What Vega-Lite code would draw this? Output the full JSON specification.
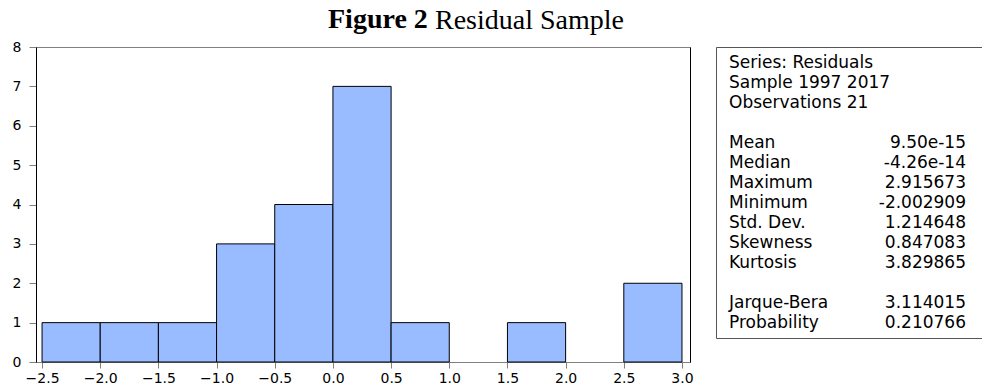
{
  "$schema": "https://vega.github.io/schema/vega-lite/v6.json",
  "padding": {"left": 11, "top": 5, "right": 0, "bottom": 0},
  "background": "white",
  "datasets": {
    "bins": [
      {"bin_start": -2.5, "bin_end": -2.0, "count": 1},
      {"bin_start": -2.0, "bin_end": -1.5, "count": 1},
      {"bin_start": -1.5, "bin_end": -1.0, "count": 1},
      {"bin_start": -1.0, "bin_end": -0.5, "count": 3},
      {"bin_start": -0.5, "bin_end": 0.0, "count": 4},
      {"bin_start": 0.0, "bin_end": 0.5, "count": 7},
      {"bin_start": 0.5, "bin_end": 1.0, "count": 1},
      {"bin_start": 1.5, "bin_end": 2.0, "count": 1},
      {"bin_start": 2.5, "bin_end": 3.0, "count": 2}
    ],
    "stats": [
      {"i": 0, "label": "Series: Residuals", "value": ""},
      {"i": 1, "label": "Sample 1997 2017", "value": ""},
      {"i": 2, "label": "Observations 21", "value": ""},
      {"i": 4, "label": "Mean", "value": "9.50e-15"},
      {"i": 5, "label": "Median", "value": "-4.26e-14"},
      {"i": 6, "label": "Maximum", "value": "2.915673"},
      {"i": 7, "label": "Minimum", "value": "-2.002909"},
      {"i": 8, "label": "Std. Dev.", "value": "1.214648"},
      {"i": 9, "label": "Skewness", "value": "0.847083"},
      {"i": 10, "label": "Kurtosis", "value": "3.829865"},
      {"i": 12, "label": "Jarque-Bera", "value": "3.114015"},
      {"i": 13, "label": "Probability", "value": "0.210766"}
    ]
  },
  "config": {
    "concat": {"spacing": 26},
    "axis": {"grid": false, "labelFont": "DejaVu Sans", "labelFontSize": 14, "labelColor": "black", "title": null},
    "title": {"font": "Liberation Serif", "fontSize": 28, "color": "black", "anchor": "start", "frame": "group", "baseline": "alphabetic"}
  },
  "hconcat": [
    {
      "width": 654,
      "height": 315,
      "title": {"text": "Figure 2", "fontWeight": "bold", "dx": 292, "offset": 6},
      "view": {"stroke": "#808080", "strokeWidth": 1},
      "data": {"name": "bins"},
      "layer": [
        {
          "mark": {"type": "bar", "fill": "#99bbff", "stroke": "black", "strokeWidth": 1},
          "encoding": {
            "x": {"field": "bin_start", "type": "quantitative",
              "scale": {"domain": [-2.552, 3.069], "nice": false, "zero": false},
              "axis": {"values": [-2.5, -2.0, -1.5, -1.0, -0.5, 0.0, 0.5, 1.0, 1.5, 2.0, 2.5, 3.0], "format": ".1f",
                "domainColor": "#808080", "tickColor": "#808080", "tickSize": 6, "labelPadding": 3, "labelFlush": false}},
            "x2": {"field": "bin_end"},
            "y": {"field": "count", "type": "quantitative",
              "scale": {"domain": [0, 8], "nice": false},
              "axis": {"values": [0, 1, 2, 3, 4, 5, 6, 7, 8], "domainColor": "black", "tickColor": "#808080", "tickSize": 7, "labelPadding": 8, "labelFlush": false}},
            "y2": {"datum": 0}
          }
        },
        {
          "mark": {"type": "bar", "opacity": 0},
          "encoding": {
            "x": {"field": "bin_start", "type": "quantitative"},
            "x2": {"field": "bin_end"},
            "y": {"field": "count", "type": "quantitative",
              "axis": {"orient": "right", "labels": false, "ticks": false, "domainColor": "black"}},
            "y2": {"datum": 0}
          }
        }
      ],
      "resolve": {"axis": {"y": "independent"}}
    },
    {
      "width": 270,
      "height": 291,
      "title": {"text": "Residual Sample", "fontWeight": "normal", "dx": -281, "offset": 12},
      "view": {"stroke": "#555555", "strokeWidth": 1},
      "data": {"name": "stats"},
      "encoding": {
        "y": {"field": "i", "type": "quantitative", "scale": {"domain": [-0.8, 13.75], "reverse": true, "nice": false, "zero": false}, "axis": null}
      },
      "layer": [
        {
          "mark": {"type": "text", "align": "left", "baseline": "middle", "font": "DejaVu Sans", "fontSize": 17, "color": "black"},
          "encoding": {
            "x": {"datum": 0, "type": "quantitative", "scale": {"domain": [-0.05485, 1.08439], "nice": false, "zero": false}, "axis": null},
            "text": {"field": "label"}
          }
        },
        {
          "mark": {"type": "text", "align": "right", "baseline": "middle", "font": "DejaVu Sans", "fontSize": 17, "color": "black"},
          "encoding": {
            "x": {"datum": 1, "type": "quantitative"},
            "text": {"field": "value"}
          }
        }
      ]
    }
  ],
  "bounds": "flush"
}
